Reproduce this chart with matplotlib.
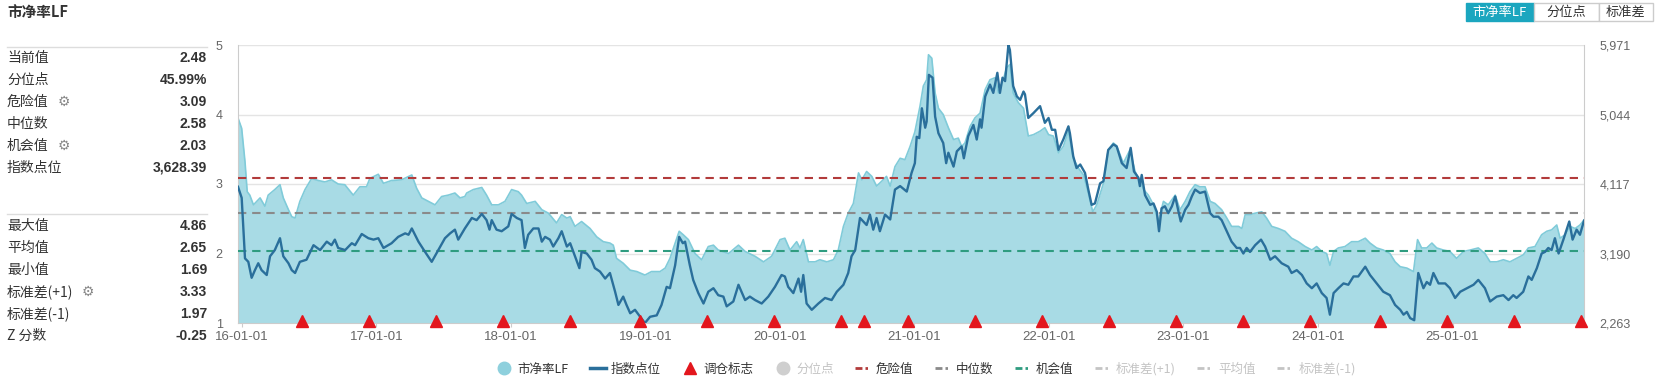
import numpy as np
import matplotlib
matplotlib.use('Agg')
import matplotlib.pyplot as plt
from matplotlib.lines import Line2D
from matplotlib.patches import Rectangle
import matplotlib.dates as mdates
import matplotlib.ticker as mticker

plt.rcParams['font.family'] = ['Noto Sans CJK SC', 'DejaVu Sans']

# ---------------- data ----------------
START = np.datetime64('2016-01-01')

# days since 2016-01-01 for the PB (市净率LF) observations
pb_day = [-10, 0, 9, 15, 22, 32, 41, 50, 63, 72, 90, 104, 113, 127, 136, 145, 158, 172, 190, 208,
          226, 244, 262, 280, 303, 321, 339, 348, 371, 385, 407, 434, 462, 475, 489, 507, 525, 543, 561, 579,
          593, 606,
          611, 629, 652, 665, 679, 697, 715, 733, 751, 760, 774, 797, 815, 833, 855, 869, 883, 892, 905, 923,
          946, 964, 982, 1000, 1009, 1018, 1036, 1055, 1073, 1095, 1113, 1136, 1150, 1163, 1177, 1188, 1199, 1213,
          1231, 1249, 1267, 1281, 1294, 1322, 1349, 1367, 1394, 1417, 1439, 1462, 1475, 1489, 1507, 1516, 1525, 1539,
          1557, 1570, 1589, 1607, 1620, 1634, 1647, 1661, 1675, 1684, 1697, 1711, 1724, 1738, 1751, 1761, 1774, 1788,
          1801, 1815, 1828,
          1842, 1851, 1860, 1865, 1874, 1883, 1892, 1905, 1919, 1933, 1946, 1955, 1964, 1978, 1991, 2005, 2019, 2032,
          2046, 2055, 2068, 2077, 2086, 2095, 2109, 2123, 2136, 2150, 2168, 2181, 2191, 2204, 2218, 2231, 2245, 2258,
          2272, 2286, 2299, 2311, 2322, 2340, 2353, 2367, 2376, 2394, 2412, 2426, 2439,
          2449, 2462, 2476, 2489, 2503, 2516, 2535, 2548, 2562, 2575, 2589, 2602, 2616, 2630, 2643, 2661, 2675, 2688,
          2707, 2716, 2725, 2738, 2752, 2770, 2783, 2797, 2815, 2833, 2851, 2869, 2888, 2906, 2919, 2933, 2946, 2955,
          2965, 2978, 2996, 3014, 3032, 3051,
          3064, 3082, 3100, 3118, 3132, 3146, 3164, 3182, 3193, 3204, 3218, 3232, 3245, 3263, 3281, 3299, 3318, 3336,
          3358, 3376, 3390, 3408, 3426, 3444, 3462, 3480, 3494, 3512, 3530, 3544, 3557, 3571, 3580, 3594, 3607, 3621,
          3634, 3645]
pb_value = [3.95, 3.80, 3.32, 2.89, 2.84, 2.70, 2.75, 2.80, 2.68, 2.84, 2.92, 2.99, 2.80, 2.63, 2.53, 2.51, 2.75, 2.92, 3.08, 3.05,
            3.03, 3.06, 3.00, 2.99, 2.84, 2.96, 2.96, 3.08, 3.14, 3.01, 3.05, 3.06, 3.13, 2.94, 2.80, 2.75, 2.70, 2.82, 2.84, 2.87,
            2.80, 2.82,
            2.87, 2.92, 2.95, 2.84, 2.70, 2.70, 2.75, 2.92, 2.89, 2.84, 2.72, 2.75, 2.63, 2.58, 2.44, 2.56, 2.51, 2.53, 2.39, 2.46,
            2.36, 2.24, 2.17, 2.15, 2.12, 1.93, 1.86, 1.76, 1.74, 1.69, 1.74, 1.74, 1.79, 1.93, 2.15, 2.32, 2.27, 2.20,
            2.00, 1.91, 2.10, 2.12, 2.05, 2.00, 2.12, 2.03, 1.96, 1.88, 1.96, 2.20, 2.22, 2.05, 2.17, 2.08, 2.20, 1.88,
            1.88, 1.91, 1.88, 1.91, 2.05, 2.39, 2.58, 2.72, 3.16, 3.06, 3.18, 3.11, 2.97, 3.04, 3.11, 2.97, 3.25, 3.37,
            3.35, 3.54, 3.75,
            4.12, 4.41, 4.50, 4.86, 4.81, 4.31, 4.09, 4.00, 3.81, 3.64, 3.66, 3.54, 3.59, 3.83, 3.95, 4.02, 4.36, 4.50,
            4.53, 4.31, 4.50, 4.67, 4.72, 4.31, 4.17, 4.09, 3.69, 3.71, 3.76, 3.81, 3.71, 3.69, 3.45, 3.54, 3.76, 3.37,
            3.23, 3.13, 2.87, 2.60, 2.70, 3.01, 3.49, 3.59, 3.55, 3.30, 3.49, 3.18, 3.04,
            2.92, 2.84, 2.70, 2.46, 2.75, 2.70, 2.84, 2.63, 2.75, 2.89, 2.99, 2.96, 2.96, 2.75, 2.72, 2.63, 2.51, 2.39,
            2.39, 2.36, 2.56, 2.56, 2.58, 2.60, 2.51, 2.39, 2.36, 2.32, 2.22, 2.17, 2.10, 2.05, 2.10, 2.03, 2.00, 1.83,
            2.03, 2.08, 2.10, 2.17, 2.17, 2.22,
            2.15, 2.08, 2.05, 2.00, 1.88, 1.81, 1.79, 1.74, 2.20, 2.08, 2.08, 2.15, 2.08, 2.05, 2.03, 1.93, 2.03, 2.05,
            2.08, 2.00, 1.88, 1.88, 1.91, 1.88, 1.93, 1.98, 2.08, 2.10, 2.27, 2.32, 2.34, 2.41, 2.22, 2.27, 2.39, 2.36,
            2.41, 2.48]

# days since 2016-01-01 for the index (指数点位) observations
idx_day = [-10, 0, 9, 18, 27, 36, 45, 54, 68, 77, 90, 104, 113, 127, 136, 145, 158, 176, 195, 213,
           231, 244, 253, 262, 281, 299, 308, 326, 344, 358, 371, 385, 407, 425, 444, 453, 462, 480, 498, 516,
           534, 552, 566, 579, 588, 606,
           625, 638, 652, 665, 673, 679, 692, 706, 724, 733, 747, 760, 769, 778, 792, 806, 815, 824, 837, 846,
           860, 869, 883, 892, 905, 917, 923, 937, 950, 959, 973, 987, 1000, 1014, 1023, 1036, 1045, 1055, 1068, 1082,
           1095, 1109, 1127, 1140, 1154, 1163, 1177, 1188, 1198, 1204, 1217,
           1226, 1240, 1254, 1267, 1281, 1294, 1308, 1317, 1335, 1349, 1367, 1380, 1394, 1412, 1430, 1448, 1466, 1475,
           1484, 1498, 1512, 1519, 1525, 1534, 1548, 1566, 1584, 1602, 1616, 1634, 1647, 1656, 1666, 1679, 1697, 1706,
           1715, 1724, 1733, 1747, 1761, 1774, 1788, 1806, 1819, 1828,
           1833, 1840, 1847, 1856, 1860, 1866, 1876, 1883, 1892, 1905, 1913, 1919, 1933, 1942, 1955, 1961, 1973, 1987,
           1996, 2005, 2009, 2019, 2032, 2041, 2052, 2059, 2066, 2073, 2082, 2086, 2095, 2105, 2114, 2123, 2127, 2136,
           2150, 2168, 2181, 2191, 2200, 2209, 2218, 2231, 2245, 2249, 2258, 2267, 2277, 2290, 2299, 2308, 2317, 2331,
           2340, 2353, 2367, 2376, 2390, 2403, 2414, 2423, 2435, 2439,
           2444, 2453, 2467, 2476, 2485, 2491, 2498, 2507, 2516, 2526, 2535, 2544, 2550, 2562, 2571, 2580, 2589, 2602,
           2616, 2630, 2639, 2652, 2661, 2675, 2688, 2702, 2711, 2720, 2729, 2738, 2752, 2768, 2779, 2793, 2806, 2824,
           2842, 2851, 2865, 2879, 2892, 2906, 2919, 2933, 2946, 2955, 2965, 2978, 2992, 3005, 3019, 3032, 3051,
           3064, 3082, 3100, 3118, 3132, 3146, 3155, 3164, 3173, 3184, 3195, 3209, 3218, 3227, 3236, 3250, 3268, 3281,
           3295, 3309, 3327, 3345, 3358, 3376, 3390, 3408, 3426, 3440, 3453, 3462, 3480, 3494, 3503, 3517, 3530, 3539,
           3548, 3557, 3566, 3576, 3589, 3605, 3614, 3625, 3634, 3645]
idx_value = [4080, 3932, 3125, 3079, 2866, 2968, 3060, 2968, 2903, 3153, 3236, 3394, 3153, 3060, 2968, 2930, 3079, 3107, 3301, 3236,
             3348, 3301, 3375, 3264, 3236, 3327, 3301, 3450, 3394, 3375, 3394, 3264, 3327, 3412, 3459, 3440, 3524, 3348, 3211, 3079,
             3236, 3394, 3459, 3508, 3375, 3524,
             3664, 3635, 3718, 3635, 3508, 3635, 3508, 3487, 3552, 3718, 3664, 3635, 3264, 3440, 3524, 3524, 3348, 3412, 3375, 3283,
             3394, 3487, 3283, 3327, 3153, 2995, 3211, 3190, 3107, 2995, 2949, 2856, 2930, 2680, 2504, 2615, 2504, 2393, 2439, 2346,
             2263, 2346, 2365, 2504, 2745, 2727, 3032, 3412, 3327, 3348, 3032,
             2838, 2662, 2523, 2680, 2727, 2634, 2615, 2485, 2550, 2773, 2569, 2615, 2569, 2523, 2615, 2745, 2903, 2884,
             2745, 2662, 2856, 2680, 2903, 2523, 2439, 2523, 2597, 2569, 2680, 2773, 2930, 3153, 3236, 3664, 3570, 3709,
             3508, 3664, 3487, 3709, 3644, 4043, 4089, 4016, 4265, 4395,
             4747, 4729, 5127, 4868, 4951, 5573, 5535, 5016, 4794, 4664, 4395, 4534, 4349, 4553, 4618, 4460, 4757, 4905,
             4710, 4979, 4868, 5285, 5443, 5332, 5600, 5332, 5535, 5489, 5971, 5906, 5424, 5285, 5239, 5350, 5313, 4998,
             5063, 5155, 4933, 4998, 4840, 4840, 4571, 4710, 4886, 4794, 4488, 4330, 4377, 4265, 4043, 3839, 3858, 4126,
             4154, 4571, 4646, 4618, 4395, 4330, 4599, 4284, 4201, 4089,
             4238, 3969, 3839, 3858, 3746, 3487, 3793, 3820, 3728, 3820, 3951, 3746, 3617, 3774, 3839, 3951, 4043, 3997,
             4016, 3728, 3681, 3681, 3635, 3487, 3348, 3264, 3264, 3190, 3264, 3211, 3301, 3375, 3283, 3107, 3153, 3060,
             3014, 2930, 2968, 2903, 2791, 2727, 2791, 2662, 2597, 2374, 2662, 2727, 2791, 2773, 2884, 2884, 3014,
             2903, 2791, 2680, 2634, 2504, 2439, 2374, 2411, 2328, 2300, 2930, 2727, 2810, 2773, 2930, 2791, 2791, 2727,
             2597, 2680, 2727, 2773, 2838, 2727, 2550, 2615, 2634, 2569, 2634, 2597, 2680, 2884, 2838, 2995, 3190, 3211,
             3264, 3236, 3394, 3190, 3375, 3617, 3375, 3508, 3440, 3628]

rebalance_dates = ['2016-06-13', '2016-12-12', '2017-06-12', '2017-12-11', '2018-06-11', '2018-12-17',
                   '2019-06-17', '2019-12-16', '2020-06-15', '2020-08-17', '2020-12-14', '2021-06-15',
                   '2021-12-13', '2022-06-13', '2022-12-12', '2023-06-12', '2023-12-11', '2024-06-17',
                   '2024-12-16', '2025-06-16', '2025-12-15']

danger_value = 3.09
median_value = 2.58
chance_value = 2.03

pb_axis_min, pb_axis_max = 1, 5
idx_axis_min, idx_axis_max = 2263, 5971

summary_top_labels = ['当前值', '分位点', '危险值', '中位数', '机会值', '指数点位']
summary_top_values = ['2.48', '45.99%', '3.09', '2.58', '2.03', '3,628.39']
summary_bottom_labels = ['最大值', '平均值', '最小值', '标准差(+1)', '标准差(-1)', 'Z 分数']
summary_bottom_values = ['4.86', '2.65', '1.69', '3.33', '1.97', '-0.25']
gear_rows = {'危险值', '机会值', '标准差(+1)'}

legend_labels = ['市净率LF', '指数点位', '调仓标志', '分位点', '危险值', '中位数', '机会值',
                 '标准差(+1)', '平均值', '标准差(-1)']
legend_disabled = {'分位点', '标准差(+1)', '平均值', '标准差(-1)'}
button_labels = ['市净率LF', '分位点', '标准差']

# ---------------- colours ----------------
C_FILL = '#a8dbe5'
C_EDGE = '#80cbd9'
C_INDEX = '#2a6f9b'
C_DANGER = '#b23b3b'
C_MEDIAN = '#8a8a8a'
C_CHANCE = '#2f9c80'
C_TRI = '#e3161d'
C_TEXT = '#333333'
C_TICK = '#666666'
C_OFF = '#c4c4c4'

# ---------------- figure ----------------
W, H = 1667, 383
fig = plt.figure(figsize=(W / 100, H / 100), dpi=100)
fig.patch.set_facecolor('white')

L, R, T, B = 238, 1584, 45, 323
ax = fig.add_axes([L / W, 1 - B / H, (R - L) / W, (B - T) / H])

pb_dates = START + np.array(pb_day, dtype='timedelta64[D]')
idx_dates = START + np.array(idx_day, dtype='timedelta64[D]')
tri_dates = np.array(rebalance_dates, dtype='datetime64[D]')

ax.set_ylim(pb_axis_min, pb_axis_max)
ax.set_xlim(pb_dates[0], pb_dates[-1])
ax.fill_between(pb_dates, pb_axis_min, pb_value, color=C_FILL, lw=0, zorder=1)
ax.plot(pb_dates, pb_value, color=C_EDGE, lw=1.2, zorder=2)

dash = (0, (4, 2.8))
ax.axhline(danger_value, color=C_DANGER, lw=1.5, ls=dash, zorder=3)
ax.axhline(median_value, color=C_MEDIAN, lw=1.5, ls=dash, zorder=3)
ax.axhline(chance_value, color=C_CHANCE, lw=1.5, ls=dash, zorder=3)

ax.set_yticks(np.arange(pb_axis_min, pb_axis_max + 1, 1))
ax.yaxis.set_major_formatter(mticker.FormatStrFormatter('%d'))
ax.grid(axis='y', color='#e4e4e4', lw=1)
ax.set_axisbelow(True)

ax.xaxis.set_major_locator(mdates.YearLocator())
ax.xaxis.set_major_formatter(mdates.DateFormatter('%y-%m-%d'))
ax.tick_params(axis='x', length=3, color='#cccccc', pad=3, labelsize=9.5, labelcolor=C_TICK,
               labelfontfamily='Liberation Sans')
ax.tick_params(axis='y', length=0, pad=11, labelsize=9, labelcolor=C_TICK,
               labelfontfamily='Liberation Sans')
for s in ['left', 'right', 'bottom']:
    ax.spines[s].set_color('#cccccc')
ax.spines['top'].set_visible(False)

ax2 = ax.twinx()
ax2.set_ylim(idx_axis_min, idx_axis_max)
ax2.plot(idx_dates, idx_value, color=C_INDEX, lw=1.7, zorder=4)
ax2.set_yticks(np.linspace(idx_axis_min, idx_axis_max, 5))
ax2.yaxis.set_major_formatter(mticker.FuncFormatter(lambda v, p: f'{v:,.0f}'))
ax2.tick_params(axis='y', length=0, pad=11, labelsize=9, labelcolor=C_TICK,
                labelfontfamily='Liberation Sans')
for s in ax2.spines.values():
    s.set_visible(False)
ax2.plot(tri_dates, np.full(len(tri_dates), 0.008), '^', color=C_TRI, ms=8.5, mec=C_TRI,
         transform=ax2.get_xaxis_transform(), clip_on=False, zorder=6)

# ---------------- left summary panel ----------------
def fy(y):
    return 1 - y / H

fig.text(7 / W, fy(13), '市净率LF', fontsize=10.5, weight='bold', color=C_TEXT, va='center')
for ysep in (47, 214):
    fig.add_artist(Line2D([7 / W, 207 / W], [fy(ysep), fy(ysep)], color='#dddddd', lw=1))

def rows(labels, values, y0):
    for i, (lab, val) in enumerate(zip(labels, values)):
        y = y0 + 22 * i
        fig.text(7 / W, fy(y), lab, fontsize=10, color=C_TEXT, va='center')
        fig.text(207 / W, fy(y), val, fontsize=10, weight='bold', color=C_TEXT, va='center', ha='right',
                 family='Liberation Sans')
        if lab in gear_rows:
            gx = 64 if len(lab) == 3 else 88
            fig.text(gx / W, fy(y), '\u2699', fontsize=10, color='#888888', va='center', ha='center',
                     family='DejaVu Sans')

rows(summary_top_labels, summary_top_values, 58)
rows(summary_bottom_labels, summary_bottom_values, 226)

# ---------------- top-right buttons ----------------
btn_x = [1466, 1534, 1599, 1653]
for i, lab in enumerate(button_labels):
    x0, x1 = btn_x[i], btn_x[i + 1]
    sel = i == 0
    fig.add_artist(Rectangle((x0 / W, fy(21)), (x1 - x0) / W, 18 / H, transform=fig.transFigure,
                             facecolor='#1ba6bf' if sel else 'white', edgecolor='#1ba6bf' if sel else '#cccccc',
                             lw=1))
    fig.text((x0 + x1) / 2 / W, fy(12), lab, fontsize=9.5, color='white' if sel else C_TEXT,
             ha='center', va='center')

# ---------------- legend ----------------
dd = (0, (2.5, 1.1, 0.9, 5))
handles = [
    Line2D([], [], marker='o', ls='none', color='#8ed0dd', ms=9),
    Line2D([], [], color=C_INDEX, lw=2.5),
    Line2D([], [], marker='^', ls='none', color=C_TRI, ms=8.5),
    Line2D([], [], marker='o', ls='none', color='#cfcfcf', ms=9),
    Line2D([], [], color=C_DANGER, lw=2, ls=dd),
    Line2D([], [], color=C_MEDIAN, lw=2, ls=dd),
    Line2D([], [], color=C_CHANCE, lw=2, ls=dd),
    Line2D([], [], color=C_OFF, lw=2, ls=dd),
    Line2D([], [], color=C_OFF, lw=2, ls=dd),
    Line2D([], [], color=C_OFF, lw=2, ls=dd),
]
leg = fig.legend(handles, legend_labels, loc='center', bbox_to_anchor=(926 / W, fy(369)), ncol=10,
                 frameon=False, fontsize=9, handlelength=1.3, handletextpad=0.4, columnspacing=1.7)
for txt in leg.get_texts():
    txt.set_color(C_OFF if txt.get_text() in legend_disabled else C_TEXT)

fig.savefig('out.png', dpi=100, facecolor='white')
